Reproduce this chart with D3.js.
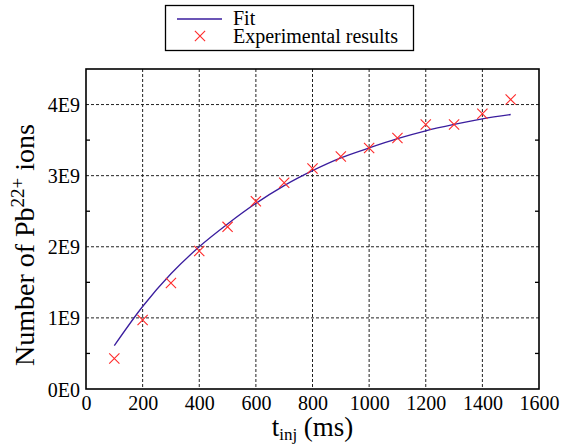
<!DOCTYPE html>
<html>
<head>
<meta charset="utf-8">
<script src="https://cdn.jsdelivr.net/npm/d3@7"></script>
<style>
body { margin: 0; background: #fff; }
text { font-family: "Liberation Serif", "Times New Roman", serif; fill: #000; }
</style>
</head>
<body>
<script>
// Data
var tInj = [100, 200, 300, 400, 500, 600, 700, 800, 900, 1000, 1100, 1200, 1300, 1400, 1500];
var measured = [0.43e9, 0.97e9, 1.49e9, 1.94e9, 2.28e9, 2.64e9, 2.9e9, 3.1e9, 3.27e9, 3.39e9, 3.53e9, 3.72e9, 3.72e9, 3.87e9, 4.07e9];
var fitN = [0.61e9, 1.16e9, 1.62e9, 2.0e9, 2.32e9, 2.61e9, 2.86e9, 3.07e9, 3.25e9, 3.39e9, 3.52e9, 3.63e9, 3.72e9, 3.8e9, 3.86e9];
var xTicks = [0, 200, 400, 600, 800, 1000, 1200, 1400, 1600];
var yTicks = [0, 1e9, 2e9, 3e9, 4e9];
var yTickLabels = ["0E0", "1E9", "2E9", "3E9", "4E9"];
var yMinor = [0.5e9, 1.5e9, 2.5e9, 3.5e9];

var serif = "Liberation Serif";

var margin = { top: 69, right: 23, bottom: 57, left: 86 };
var width = 562 - margin.left - margin.right;
var height = 446 - margin.top - margin.bottom;

var svg = d3.select("body").append("svg")
    .attr("width", 562)
    .attr("height", 446);

var g = svg.append("g")
    .attr("transform", "translate(" + margin.left + "," + margin.top + ")");

var x = d3.scaleLinear().domain([0, 1600]).range([0, width]);
var y = d3.scaleLinear().domain([0, 4.5e9]).range([height, 0]);

// dashed grid
g.selectAll("line.vgrid").data(xTicks.slice(1, -1)).enter().append("line")
    .attr("class", "vgrid")
    .attr("x1", function (d) { return x(d); })
    .attr("x2", function (d) { return x(d); })
    .attr("y1", 0).attr("y2", height)
    .style("stroke", "#222").style("stroke-width", 1).style("stroke-dasharray", "3,2");

g.selectAll("line.hgrid").data(yTicks.slice(1)).enter().append("line")
    .attr("class", "hgrid")
    .attr("x1", 0).attr("x2", width)
    .attr("y1", function (d) { return y(d); })
    .attr("y2", function (d) { return y(d); })
    .style("stroke", "#222").style("stroke-width", 1).style("stroke-dasharray", "3,2");

// minor ticks, pointing inward on both sides
yMinor.forEach(function (v) {
    g.append("line").attr("x1", 0).attr("x2", 4).attr("y1", y(v)).attr("y2", y(v))
        .style("stroke", "#000").style("stroke-width", 1.3);
    g.append("line").attr("x1", width).attr("x2", width - 4).attr("y1", y(v)).attr("y2", y(v))
        .style("stroke", "#000").style("stroke-width", 1.3);
});

// frame
g.append("rect")
    .attr("width", width).attr("height", height)
    .style("fill", "none").style("stroke", "#000").style("stroke-width", 1.6);

// tick labels
var xAxis = g.append("g")
    .attr("transform", "translate(0," + height + ")")
    .call(d3.axisBottom(x).tickValues(xTicks).tickSize(0).tickPadding(7).tickFormat(d3.format("d")))
    .attr("font-family", serif).attr("font-size", 20);
xAxis.select(".domain").remove();
xAxis.selectAll("text").style("font-family", serif).style("font-size", "20px");

var yAxis = g.append("g")
    .call(d3.axisLeft(y).tickValues(yTicks).tickSize(0).tickPadding(6)
        .tickFormat(function (d, i) { return yTickLabels[i]; }))
    .attr("font-family", serif).attr("font-size", 20);
yAxis.select(".domain").remove();
yAxis.selectAll("text").style("font-family", serif).style("font-size", "20px").attr("dy", "0.35em");

// fit line
var line = d3.line()
    .x(function (d, i) { return x(tInj[i]); })
    .y(function (d) { return y(d); })
    .curve(d3.curveMonotoneX);

g.append("path")
    .datum(fitN)
    .attr("d", line)
    .style("fill", "none").style("stroke", "#3a1d9e").style("stroke-width", 1.3);

// experimental crosses
var cross = d3.symbol().type(d3.symbolX).size(70);
g.selectAll("path.pt").data(measured).enter().append("path")
    .attr("class", "pt")
    .attr("d", cross)
    .attr("transform", function (d, i) { return "translate(" + x(tInj[i]) + "," + y(d) + ")"; })
    .style("fill", "none").style("stroke", "#ff2a2a").style("stroke-width", 1.1);

// axis titles
var xt = svg.append("text")
    .attr("x", margin.left + width / 2)
    .attr("y", 436)
    .attr("text-anchor", "middle")
    .style("font-size", "27px");
xt.append("tspan").text("t");
xt.append("tspan").attr("dy", 4).style("font-size", "17px").text("inj");
xt.append("tspan").attr("dy", -4).text(" (ms)");

var yt = svg.append("text")
    .attr("transform", "translate(34," + (margin.top + height / 2 + 16) + ") rotate(-90)")
    .attr("text-anchor", "middle")
    .style("font-size", "28px");
yt.append("tspan").text("Number of Pb");
yt.append("tspan").attr("dy", -10).style("font-size", "19px").text("22+");
yt.append("tspan").attr("dy", 10).text(" ions");

// legend
var legend = svg.append("g");
legend.append("rect")
    .attr("x", 165.5).attr("y", 5.5).attr("width", 248).attr("height", 45)
    .style("fill", "#fff").style("stroke", "#000").style("stroke-width", 1.3);
legend.append("line")
    .attr("x1", 177).attr("x2", 222).attr("y1", 19).attr("y2", 19)
    .style("stroke", "#3a1d9e").style("stroke-width", 1.3);
legend.append("text").attr("x", 233).attr("y", 25).style("font-size", "20px").text("Fit");
legend.append("path")
    .attr("d", cross)
    .attr("transform", "translate(200,36)")
    .style("fill", "none").style("stroke", "#ff2a2a").style("stroke-width", 1.1);
legend.append("text").attr("x", 233).attr("y", 43).style("font-size", "20px").text("Experimental results");
</script>
</body>
</html>
